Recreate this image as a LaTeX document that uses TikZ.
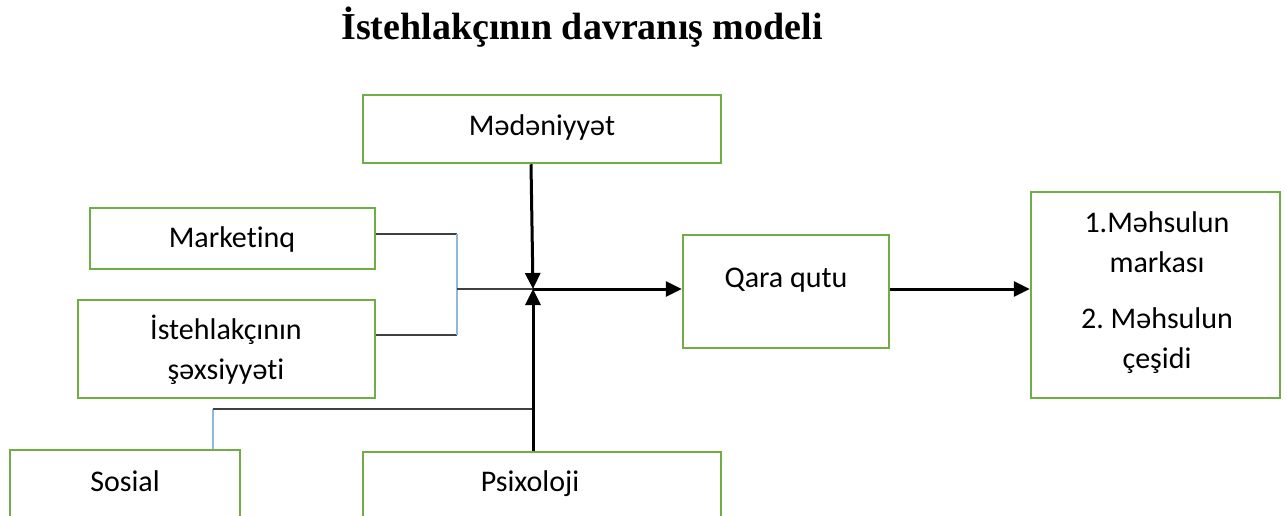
\documentclass[tikz,border=0pt]{standalone}
\usepackage{fontspec}
\setmainfont{Carlito}[Ligatures=NoCommon]
\newfontfamily\titlefont{Liberation Serif}
\usetikzlibrary{arrows.meta}
\definecolor{boxgreen}{HTML}{70AD47}
\definecolor{linkblue}{HTML}{8DB8E2}
\definecolor{linkgrey}{HTML}{404040}
\frenchspacing
\begin{document}
\begin{tikzpicture}[x=1pt,y=-1pt,
  box/.style={draw=boxgreen,line width=2.5pt,fill=white,align=center,
    inner sep=0pt},
  label/.style={font=\fontsize{30}{40}\selectfont,align=center},
  flow/.style={line width=3pt,-{Triangle[length=16pt,width=15pt]}},
  thinlink/.style={draw=linkgrey,line width=1.4pt},
  bluelink/.style={draw=linkblue,line width=1.4pt}]
\useasboundingbox (0,0) rectangle (1287,516);
\clip (0,0) rectangle (1287,516);
\fill[white] (0,0) rectangle (1287,516);

% title
\node[font=\titlefont\bfseries\fontsize{38}{42}\selectfont] (title) at (582,27) {İstehlakçının davranış modeli};

% factor boxes
\node[box,minimum width=358pt,minimum height=68pt] (med) at (542,129) {};
\node[label] (medtxt) at (542,128) {Mədəniyyət};
\node[box,minimum width=285pt,minimum height=61pt] (mkt) at (232.5,238.5) {};
\node[label] (mkttxt) at (232,240) {Marketinq};
\node[box,minimum width=297pt,minimum height=98pt] (per) at (226.5,349) {};
\node[label] (pertxt) at (226,350) {İstehlakçının\\şəxsiyyəti};
\node[box,minimum width=230pt,minimum height=120pt] (sos) at (125,510) {};
\node[label] (sostxt) at (125,481) {Sosial};
\node[box,minimum width=358pt,minimum height=120pt] (psi) at (542,512) {};
\node[label] (psitxt) at (530,484) {Psixoloji};

% black box and result
\node[box,minimum width=206pt,minimum height=113pt] (qara) at (786,291.5) {};
\node[label] (qaratxt) at (786,280) {Qara qutu};
\node[box,minimum width=249pt,minimum height=206pt] (res) at (1155.5,295) {};
\node[label] (restxt1) at (1157,242) {1.Məhsulun\\markası};
\node[label] (restxt2) at (1157,341) {2. Məhsulun\\çeşidi};

% junction points
\coordinate (j) at (533,289);
\coordinate (bus) at (457,289);
\coordinate (sbend) at (213,409);

% Marketinq and personality merge into one line
\draw[thinlink] ([yshift=4.5pt]mkt.east) -- ([yshift=4.5pt]mkt.east -| bus);
\draw[thinlink] ([yshift=14pt]per.east) -- ([yshift=14pt]per.east -| bus);
\draw[bluelink] ([yshift=4.5pt]mkt.east -| bus) -- ([yshift=14pt]per.east -| bus);
\draw[thinlink] (bus) -- (j);

% social factor line
\draw[bluelink] (sbend |- sos.north) -- (sbend);
\draw[thinlink] (sbend) -- (sbend -| j);

% main arrows
\draw[flow] (med.south -| 531,0) -- (j);
\draw[flow] (psi.north -| j) -- (j);
\draw[flow] (j) -- (j -| qara.west);
\draw[flow] (qara.east |- j) -- (res.west |- j);
\end{tikzpicture}
\end{document}
